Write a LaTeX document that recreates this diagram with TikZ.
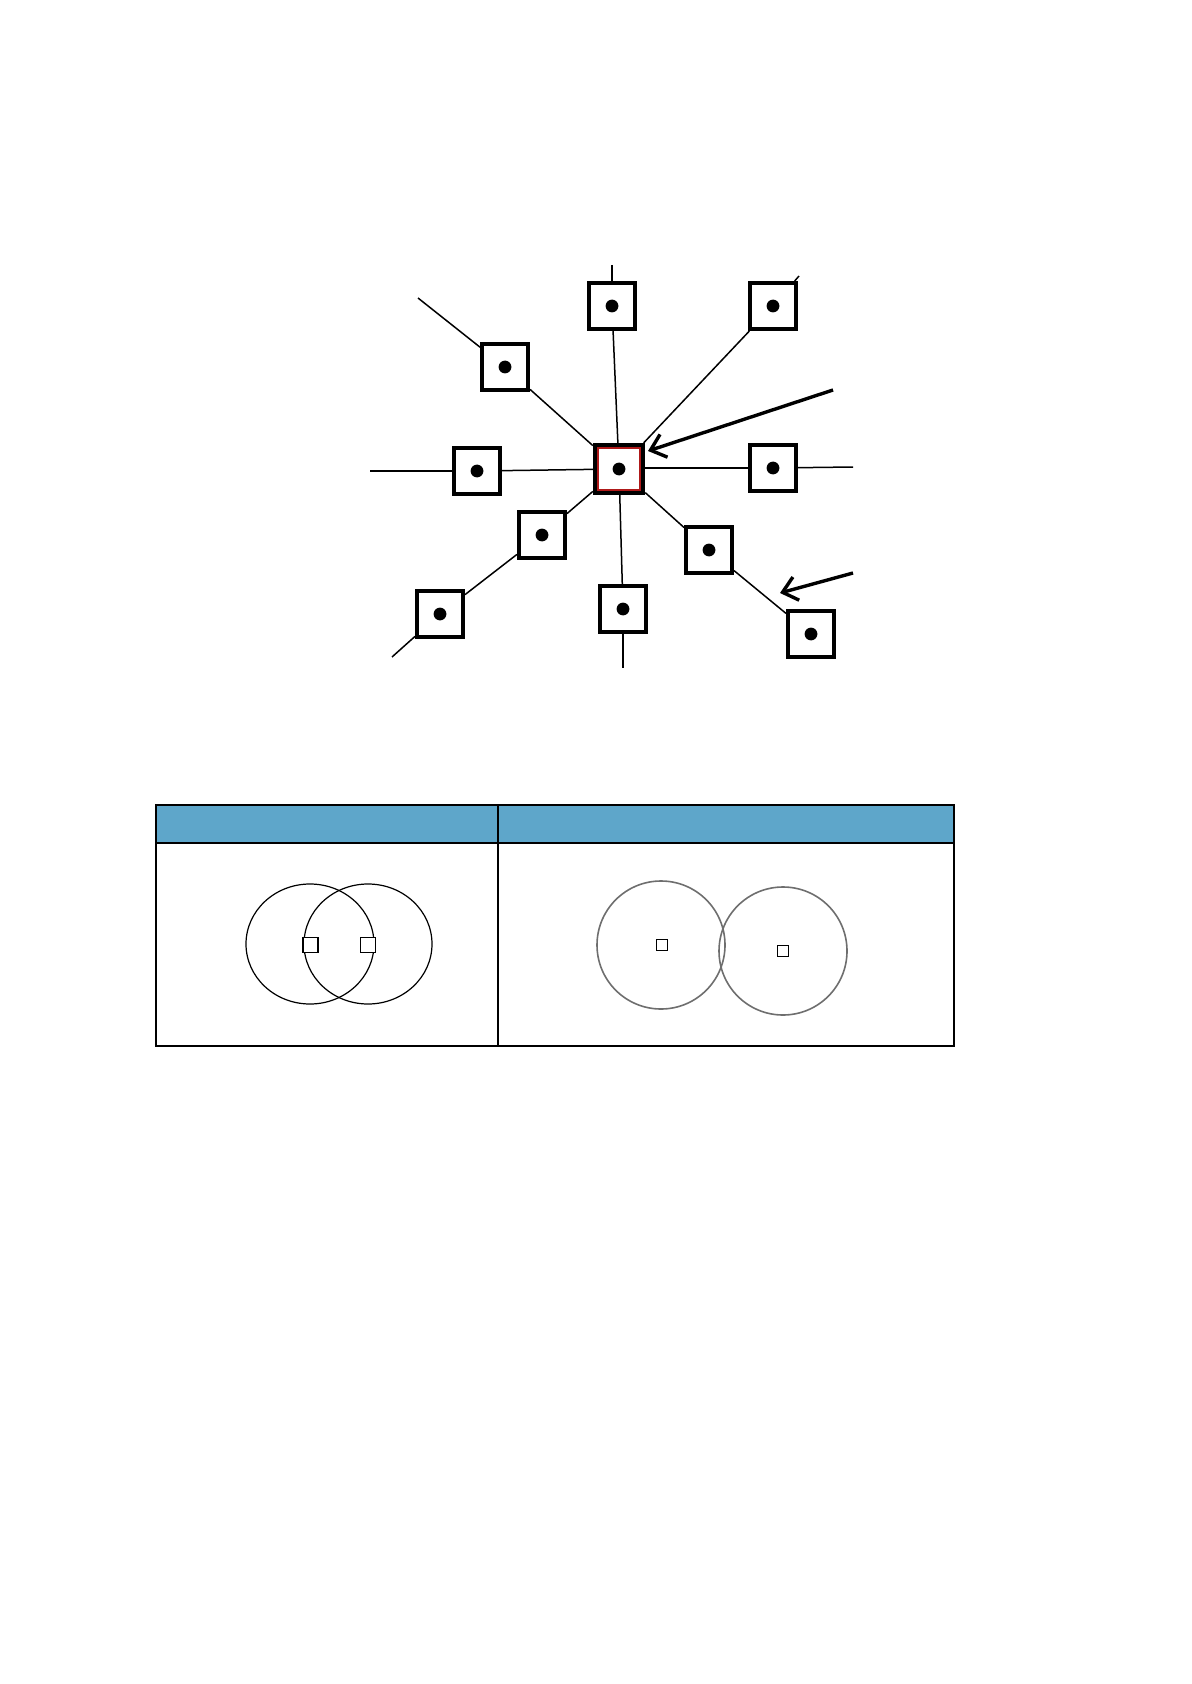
\documentclass[tikz,border=0pt]{standalone}
\usetikzlibrary{arrows.meta}
\definecolor{hdrblue}{RGB}{94,166,202}
\definecolor{framered}{RGB}{175,25,25}
\definecolor{ringgray}{RGB}{110,110,110}
\begin{document}
\begin{tikzpicture}[x=0.5pt,y=-0.5pt,
  cellbox/.style={draw, line width=2pt, minimum size=23pt, inner sep=0pt, fill=white},
  spoke/.style={line width=0.75pt},
  pointer/.style={line width=1.7pt, -{Straight Barb[length=7pt,width=12pt,line width=1.7pt]}},
  tline/.style={line width=0.6pt},
  smallsq/.style={draw, line width=0.7pt, inner sep=0pt, fill=white}]
\path[use as bounding box] (0,0) rectangle (1191,1684);

% star diagram nodes
\node[cellbox] (T)   at (612,306) {};
\node[cellbox] (TR)  at (773,306) {};
\node[cellbox] (UL)  at (505,367) {};
\node[cellbox, draw=framered, line width=3.2pt] (C) at (619,469) {};
\node[cellbox] (L)   at (477,471) {};
\node[cellbox] (R)   at (773,468) {};
\node[cellbox] (LL1) at (542,535) {};
\node[cellbox] (LL2) at (440,614) {};
\node[cellbox] (B)   at (623,609) {};
\node[cellbox] (LR1) at (709,550) {};
\node[cellbox] (LR2) at (811,634) {};
\draw[black, line width=2pt] ([shift={(1pt,1pt)}]C.south west) rectangle ([shift={(-1pt,-1pt)}]C.north east);

\foreach \n in {T,TR,UL,C,L,R,LL1,LL2,B,LR1,LR2}
  \fill (\n.center) circle[radius=3.2pt];

% free line ends
\coordinate (eT)  at (612,265);
\coordinate (eTR) at (799,276);
\coordinate (eUL) at (418,298);
\coordinate (eL)  at (370,471);
\coordinate (eR)  at (853,467);
\coordinate (eLL) at (392,657);
\coordinate (eB)  at (623,668);

\draw[spoke] (eT) -- (T);
\draw[spoke] (T) -- (C);
\draw[spoke] (eTR) -- (TR);
\draw[spoke] (TR) -- (C);
\draw[spoke] (eUL) -- (UL);
\draw[spoke] (UL) -- (C);
\draw[spoke] (eL) -- (L);
\draw[spoke] (L) -- (C);
\draw[spoke] (C.east |- R.west) -- (R);
\draw[spoke] (R) -- (eR);
\draw[spoke] (C) -- (LL1);
\draw[spoke] (LL1) -- (LL2);
\draw[spoke] (LL2) -- (eLL);
\draw[spoke] (C) -- (B);
\draw[spoke] (B) -- (eB);
\draw[spoke] (C) -- (LR1);
\draw[spoke] (LR1) -- (LR2);

% arrows
\coordinate (a1s) at (833,390);
\coordinate (a1e) at (648,451);
\coordinate (a2s) at (853,573);
\coordinate (a2e) at (780,593);
\draw[pointer] (a1s) -- (a1e);
\draw[pointer] (a2s) -- (a2e);

% table
\fill[hdrblue] (156,805) rectangle (954,843);
\draw[tline] (156,805) rectangle (954,1046);
\draw[tline] (156,843) -- (954,843);
\draw[tline] (498,805) -- (498,1046);

% left cell: overlapping rings
\draw[line width=0.6pt] (310,944) ellipse [x radius=64, y radius=60];
\draw[line width=0.6pt] (368,944) ellipse [x radius=64, y radius=60];
\node[smallsq, minimum size=7.5pt] (ls1) at (310.5,945) {};
\node[smallsq, minimum size=7.5pt] (ls2) at (368,945) {};

% right cell: touching rings
\draw[ringgray, line width=0.8pt] (661,945) circle [radius=64];
\draw[ringgray, line width=0.8pt] (783,951) circle [radius=64];
\node[smallsq, minimum size=5.5pt] (rs1) at (662,945) {};
\node[smallsq, minimum size=5.5pt] (rs2) at (783,951) {};
\end{tikzpicture}
\end{document}
